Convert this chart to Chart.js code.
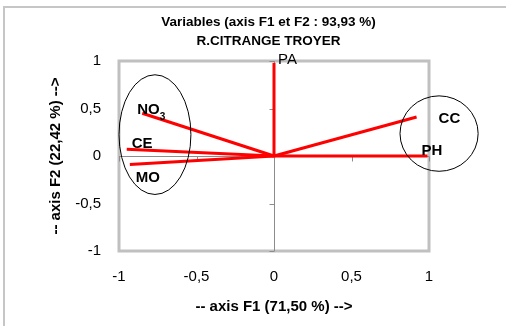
<!DOCTYPE html>
<html>
<head>
<meta charset="utf-8">
<script src="https://cdn.jsdelivr.net/npm/chart.js@4.4.0/dist/chart.umd.min.js"></script>
<style>
  html, body { margin: 0; padding: 0; background: #fff; overflow: hidden; }
  #frame { position: absolute; left: 3px; top: 6px; width: 520px; height: 340px; border: 2px solid #c6c6c6; }
  #wrap { position: absolute; left: 0; top: 0; width: 506px; height: 326px; }
</style>
</head>
<body>
<div id="frame"></div>
<div id="wrap"><canvas id="pca" width="506" height="326"></canvas></div>
<script>
// variable coordinates on F1 / F2
const variables = ['PA', 'NO3', 'CE', 'MO', 'CC', 'PH'];
const f1 = [0.00, -0.85, -0.95, -0.93, 0.92, 0.99];
const f2 = [0.98, 0.45, 0.07, -0.09, 0.41, 0.00];
const axisTicks = [-1, -0.5, 0, 0.5, 1];
const titleLines = ['Variables (axis F1 et F2 : 93,93 %)', 'R.CITRANGE TROYER'];

const fontFamily = '"Liberation Sans", Arial, sans-serif';

// label placement (px from vector tip) and weight
const labelStyle = {
    PA:  { dx: 4,  dy: -3, bold: false },
    NO3: { dx: -5, dy: -3, bold: true },
    CE:  { dx: 5,  dy: -5, bold: true },
    MO:  { dx: 6,  dy: 13, bold: true },
    CC:  { dx: 22, dy: 2,  bold: true },
    PH:  { dx: -6, dy: -5, bold: true }
};

// hand-drawn group ellipses, in axis units
const groups = [
    { cx: -0.768, cy: 0.225, rx: 0.232, ry: 0.63 },
    { cx: 1.065, cy: 0.236, rx: 0.252, ry: 0.397 }
];

const decor = {
    id: 'decor',
    beforeDatasetsDraw(chart) {
        const { ctx, chartArea: a, scales: { x, y } } = chart;
        ctx.save();
        ctx.strokeStyle = '#c0c0c0';
        ctx.lineWidth = 3;
        ctx.strokeRect(a.left, a.top, a.right - a.left, a.bottom - a.top);

        ctx.strokeStyle = '#8c8c8c';
        ctx.lineWidth = 1;
        const x0 = Math.round(x.getPixelForValue(0)) + 0.5;
        const y0 = Math.round(y.getPixelForValue(0)) + 0.5;
        ctx.beginPath();
        ctx.moveTo(x0, a.top); ctx.lineTo(x0, a.bottom);
        ctx.moveTo(a.left, y0); ctx.lineTo(a.right, y0);
        axisTicks.forEach(v => {
            if (v === 0) return;
            const py = Math.round(y.getPixelForValue(v)) + 0.5;
            ctx.moveTo(x0 - 5, py); ctx.lineTo(x0, py);
            const px = Math.round(x.getPixelForValue(v)) + 0.5;
            ctx.moveTo(px, y0); ctx.lineTo(px, y0 + 5);
        });
        ctx.stroke();
        ctx.restore();
    },
    afterDatasetsDraw(chart) {
        const { ctx, scales: { x, y } } = chart;
        ctx.save();
        ctx.strokeStyle = '#000';
        ctx.lineWidth = 1;
        groups.forEach(g => {
            const cx = x.getPixelForValue(g.cx), cy = y.getPixelForValue(g.cy);
            const rx = Math.abs(x.getPixelForValue(g.cx + g.rx) - cx);
            const ry = Math.abs(y.getPixelForValue(g.cy + g.ry) - cy);
            ctx.beginPath();
            ctx.ellipse(cx, cy, rx, ry, 0, 0, Math.PI * 2);
            ctx.stroke();
        });

        ctx.fillStyle = '#000';
        ctx.textAlign = 'left';
        ctx.textBaseline = 'middle';
        variables.forEach((name, i) => {
            const st = labelStyle[name];
            const px = x.getPixelForValue(f1[i]) + st.dx;
            const py = y.getPixelForValue(f2[i]) + st.dy;
            const m = name.match(/^(\D+)(\d+)$/);
            const main = m ? m[1] : name;
            ctx.font = (st.bold ? 'bold ' : '') + '15px ' + fontFamily;
            ctx.fillText(main, px, py);
            if (m) {
                const w = ctx.measureText(main).width;
                ctx.font = (st.bold ? 'bold ' : '') + '10px ' + fontFamily;
                ctx.fillText(m[2], px + w, py + 7);
            }
        });
        ctx.restore();
    },
    afterDraw(chart) {
        const { ctx } = chart;
        ctx.save();
        ctx.fillStyle = '#000';
        ctx.textAlign = 'center';
        ctx.textBaseline = 'middle';
        ctx.font = 'bold 13.5px ' + fontFamily;
        ctx.fillText(titleLines[0], 268.5, 22);
        ctx.fillText(titleLines[1], 268.5, 41);
        ctx.restore();
    }
};

const tickLabel = v => String(v).replace('.', ',');

const axisCommon = (titleText, pad) => ({
    type: 'linear',
    min: -1,
    max: 1,
    afterBuildTicks: s => { s.ticks = axisTicks.map(v => ({ value: v })); },
    grid: { display: false, drawTicks: false },
    border: { display: false },
    ticks: {
        padding: pad,
        color: '#000',
        font: { family: fontFamily, size: 15 },
        callback: tickLabel
    },
    title: {
        display: true,
        text: titleText,
        color: '#000',
        font: { family: fontFamily, size: 15, weight: 'bold' }
    }
});

const xAxis = axisCommon('-- axis F1 (71,50 %) -->', 17);
xAxis.title.padding = { top: 4, bottom: 10 };
xAxis.afterFit = s => { s.height = 75; };

const yAxis = axisCommon('-- axis F2 (22,42 %) -->', 18);
yAxis.title.padding = { top: 7, bottom: 4 };
yAxis.afterFit = s => { s.width = 79; };

new Chart(document.getElementById('pca').getContext('2d'), {
    type: 'scatter',
    data: {
        datasets: variables.map((name, i) => ({
            label: name,
            data: [{ x: 0, y: 0 }, { x: f1[i], y: f2[i] }],
            showLine: true,
            borderColor: '#ff0000',
            borderWidth: 3,
            pointRadius: 0,
            fill: false
        }))
    },
    options: {
        responsive: false,
        animation: false,
        layout: { padding: { left: 40, right: 77, top: 61, bottom: 0 } },
        plugins: {
            legend: { display: false },
            tooltip: { enabled: false }
        },
        scales: { x: xAxis, y: yAxis }
    },
    plugins: [decor]
});
</script>
</body>
</html>
